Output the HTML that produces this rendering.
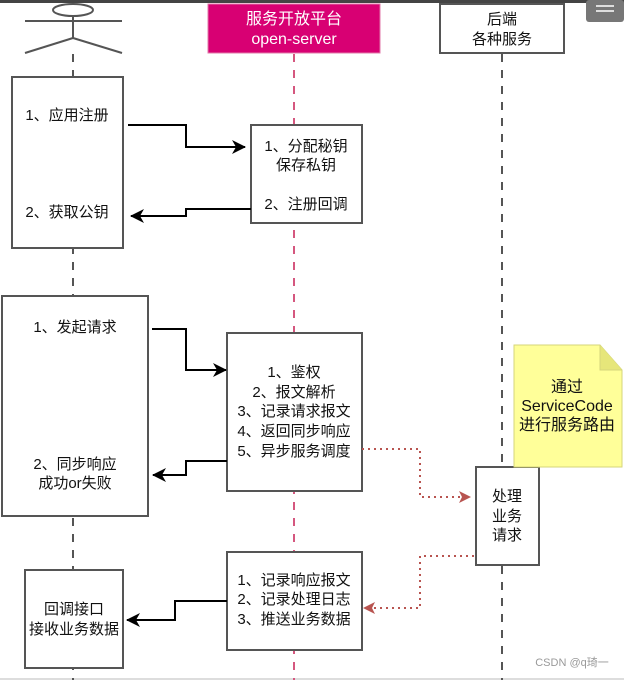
<!DOCTYPE html>
<html><head><meta charset="utf-8"><style>
body{margin:0;background:#fff}
svg text{font-family:"Liberation Sans","Noto Sans CJK SC",sans-serif;font-size:15px;fill:#111;text-anchor:middle;dominant-baseline:middle}
</style></head><body>
<svg width="624" height="680" viewBox="0 0 624 680" xmlns="http://www.w3.org/2000/svg">
<defs>
<marker id="ab" markerWidth="14" markerHeight="14" refX="13" refY="7" orient="auto" markerUnits="userSpaceOnUse"><path d="M0,0 L14,7 L0,14 L4,7 Z" fill="#000"/></marker>
<marker id="ar" markerWidth="12" markerHeight="12" refX="11" refY="6" orient="auto" markerUnits="userSpaceOnUse"><path d="M0,0 L12,6 L0,12 L3,6 Z" fill="#b85450"/></marker>
</defs>
<rect x="0" y="0" width="624" height="3" fill="#444"/>
<rect x="586" y="0" width="38" height="22" rx="3" fill="#777"/>
<g stroke="#ddd" stroke-width="2"><line x1="596" y1="6" x2="614" y2="6"/><line x1="596" y1="11" x2="614" y2="11"/></g>
<line x1="0" y1="679" x2="624" y2="679" stroke="#bbb"/>
<line x1="73" y1="54" x2="73" y2="680" stroke="#555" stroke-width="2" stroke-dasharray="8,8"/>
<line x1="294" y1="54" x2="294" y2="680" stroke="#d5577f" stroke-width="2" stroke-dasharray="8,8"/>
<line x1="502" y1="54" x2="502" y2="680" stroke="#555" stroke-width="2" stroke-dasharray="8,8"/>
<g stroke="#555" stroke-width="2" fill="none">
<ellipse cx="73" cy="10" rx="20" ry="6"/>
<line x1="25" y1="21" x2="122" y2="21"/>
<line x1="73" y1="16" x2="73" y2="38"/>
<line x1="73" y1="38" x2="25" y2="53"/>
<line x1="73" y1="38" x2="122" y2="53"/>
</g>
<rect x="208" y="4" width="172" height="49" fill="#d80073" stroke="#e07aa8"/>
<text x="294" y="20" style="fill:#fff;font-size:16px">服务开放平台</text>
<text x="294" y="40" style="fill:#fff;font-size:16px">open-server</text>
<rect x="440" y="4" width="124" height="49" fill="#fff" stroke="#555" stroke-width="2"/>
<text x="502" y="20">后端</text>
<text x="502" y="40">各种服务</text>
<g fill="#fff" stroke="#555" stroke-width="2">
<rect x="12" y="77" width="111" height="171"/>
<rect x="251" y="125" width="111" height="98"/>
<rect x="2" y="296" width="146" height="220"/>
<rect x="227" y="333" width="135" height="158"/>
<rect x="476" y="467" width="63" height="98"/>
<rect x="227" y="552" width="135" height="98"/>
<rect x="25" y="570" width="98" height="98"/>
</g>
<path d="M514,345 L600,345 L622,370 L622,467 L514,467 Z" fill="#ffff99" stroke="#d6d67a"/>
<path d="M600,345 L600,370 L622,370" fill="#e6e67a" stroke="#d6d67a"/>
<text x="67" y="116">1、应用注册</text>
<text x="67" y="213">2、获取公钥</text>
<text x="306" y="147">1、分配秘钥</text>
<text x="306" y="166">保存私钥</text>
<text x="306" y="205">2、注册回调</text>
<text x="75" y="328">1、发起请求</text>
<text x="75" y="465">2、同步响应</text>
<text x="75" y="484">成功or失败</text>
<text x="294" y="373">1、鉴权</text>
<text x="294" y="393">2、报文解析</text>
<text x="294" y="412">3、记录请求报文</text>
<text x="294" y="432">4、返回同步响应</text>
<text x="294" y="452">5、异步服务调度</text>
<text x="567" y="388" style="font-size:16px">通过</text>
<text x="567" y="407" style="font-size:16px">ServiceCode</text>
<text x="567" y="426" style="font-size:16px">进行服务路由</text>
<text x="507" y="497">处理</text>
<text x="507" y="517">业务</text>
<text x="507" y="536">请求</text>
<text x="294" y="581">1、记录响应报文</text>
<text x="294" y="600">2、记录处理日志</text>
<text x="294" y="620">3、推送业务数据</text>
<text x="74" y="610">回调接口</text>
<text x="74" y="630">接收业务数据</text>
<text x="572" y="663" style="font-size:11px;fill:#999">CSDN @q琦一</text>
<g stroke="#000" stroke-width="2" fill="none">
<path d="M128,125 H186 V147 H245" marker-end="url(#ab)"/>
<path d="M251,209 H186 V216 H131" marker-end="url(#ab)"/>
<path d="M152,329 H186 V370 H226" marker-end="url(#ab)"/>
<path d="M227,461 H186 V475 H153" marker-end="url(#ab)"/>
<path d="M227,601 H175 V620 H127" marker-end="url(#ab)"/>
</g>
<g stroke="#b85450" stroke-width="2" fill="none" stroke-dasharray="2,4">
<path d="M362,449 H420 V497 H470" marker-end="url(#ar)"/>
<path d="M474,556 H420 V608 H364" marker-end="url(#ar)"/>
</g>
</svg>
</body></html>
